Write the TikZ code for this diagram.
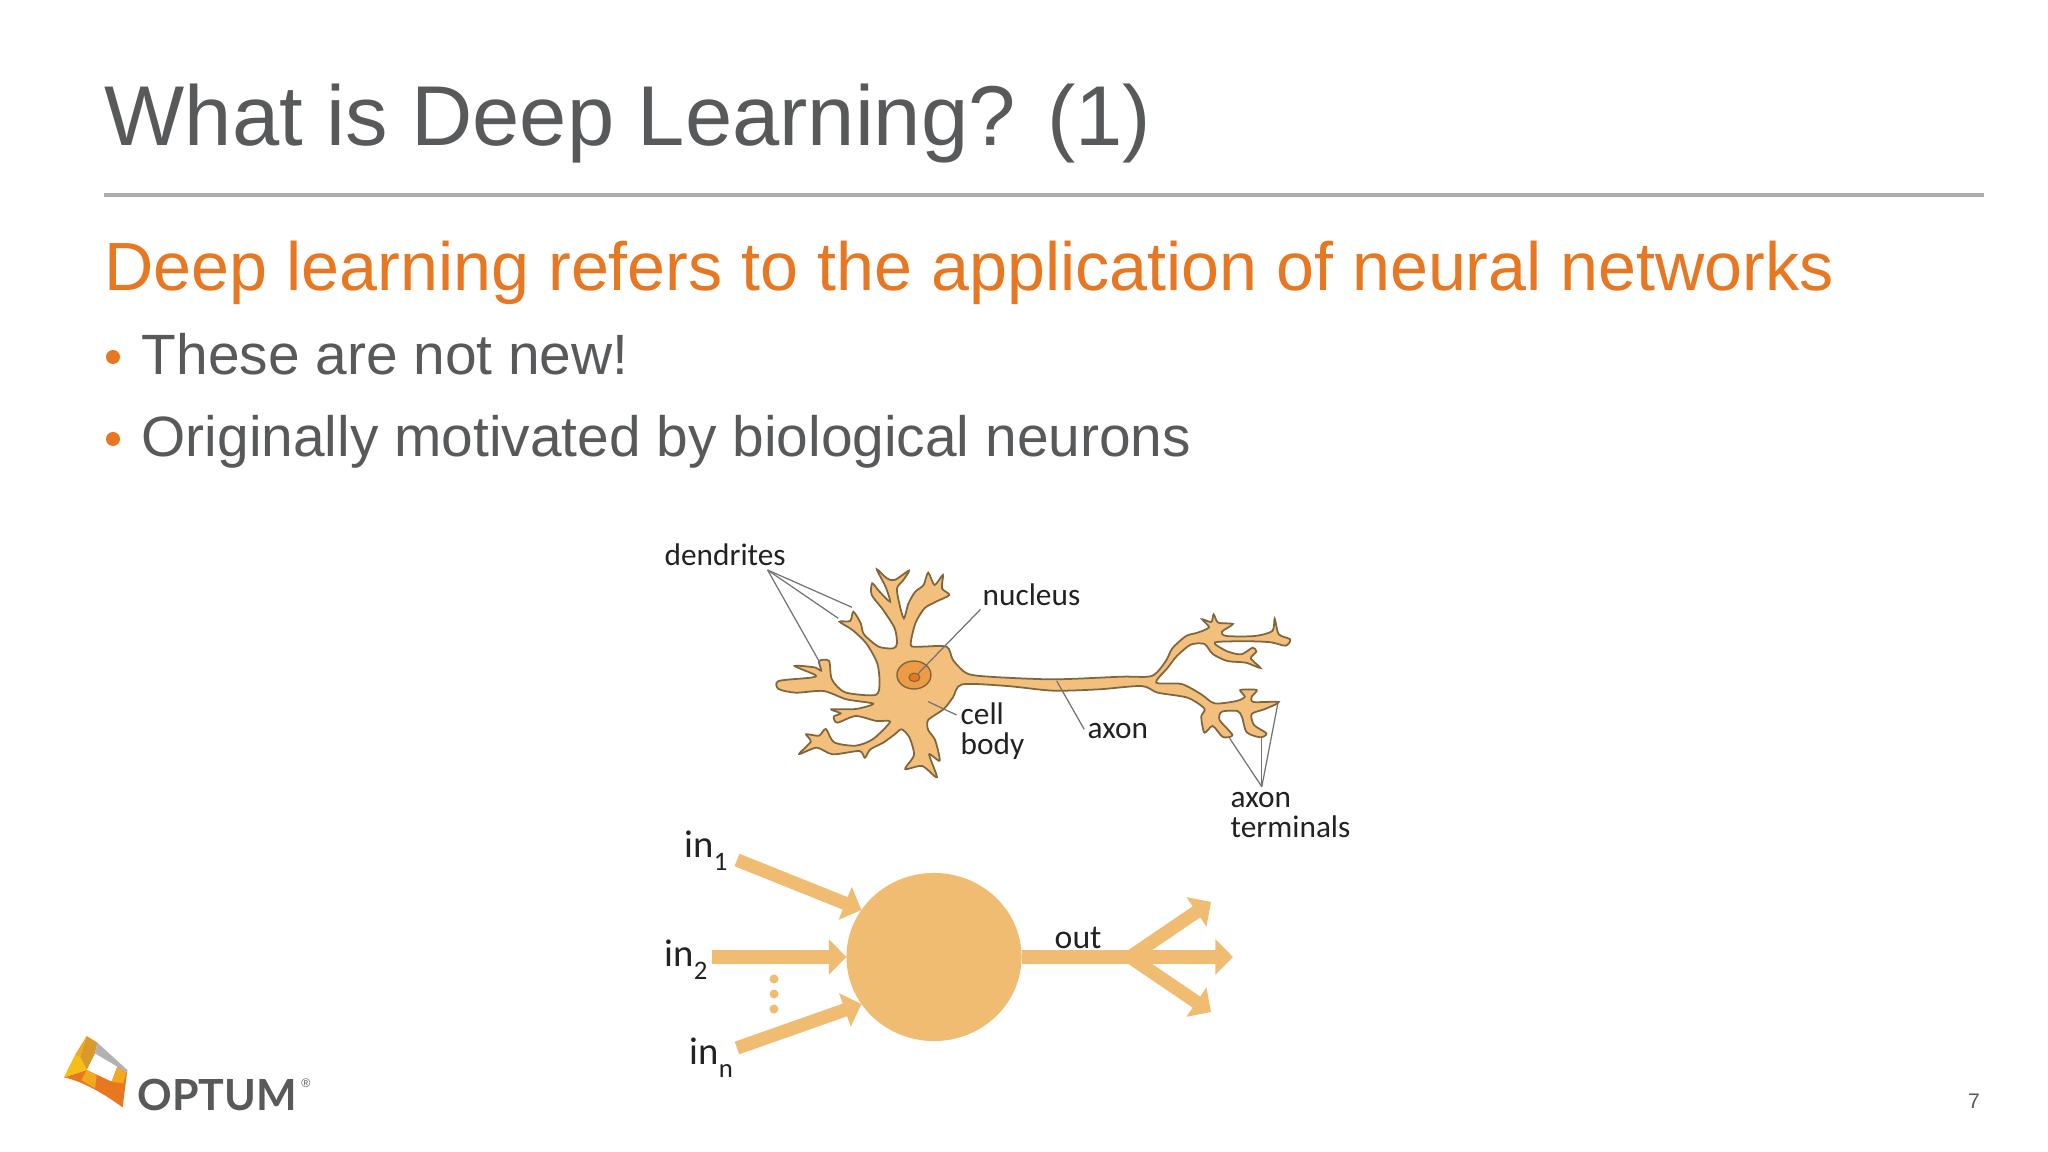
\documentclass[tikz,border=0pt]{standalone}
\usepackage{fontspec}
\usepackage{tikz}
\usetikzlibrary{arrows.meta, positioning, shapes.geometric}
\setmainfont{Liberation Sans}
\newfontfamily\labelfont{Carlito}
\newfontfamily\logofont{Lato}
\definecolor{slidegray}{HTML}{58595B}
\definecolor{slideorange}{HTML}{E87722}
\definecolor{neuronfill}{HTML}{F2C07C}
\definecolor{neuronedge}{HTML}{80663C}
\definecolor{nucleusfill}{HTML}{EE9B45}
\definecolor{flowfill}{HTML}{EFBC72}
\definecolor{labelink}{HTML}{222222}
\definecolor{logoamber}{HTML}{F2A91E}
\definecolor{logoyellow}{HTML}{F7BE16}
\definecolor{logobrown}{HTML}{D99A2B}
\newcommand{\insub}[1]{in\raisebox{-0.36em}{\fontsize{7.6pt}{8pt}\selectfont #1}}

\begin{document}
\begin{tikzpicture}[x=0.01cm, y=-0.01cm]
		\tikzstyle{Title} = [anchor=base west, inner sep=0, text=slidegray, font=\fontsize{24.15pt}{28pt}\selectfont]
		\tikzstyle{Lead} = [anchor=base west, inner sep=0, text=slideorange, font=\fontsize{19.4pt}{23pt}\selectfont]
		\tikzstyle{Item} = [anchor=base west, inner sep=0, text=slidegray, font=\fontsize{16.17pt}{20pt}\selectfont]
		\tikzstyle{Dot} = [circle, fill=slideorange, inner sep=0, minimum size=0.14cm]
		\tikzstyle{Tag} = [anchor=base west, inner sep=0, text=labelink, align=left, font=\labelfont\fontsize{8.9pt}{8.7pt}\selectfont]
		\tikzstyle{InTag} = [anchor=base west, inner sep=0, text=labelink, font=\labelfont\fontsize{11pt}{12pt}\selectfont]
		\tikzstyle{leader} = [draw=black!55, line width=0.35pt]
		\tikzstyle{flow} = [draw=flowfill, line width=3.8pt, -{Triangle[length=5pt, width=9.8pt]}]
		\tikzstyle{seed} = [circle, fill=flowfill, inner sep=0, minimum size=0.09cm]

		\useasboundingbox (0,0) rectangle (2048,1152);
		\fill [white] (0,0) rectangle (2048,1152);

		\node (title) [Title] at (104,146) {What is Deep Learning? (1)};
		\draw [draw=black!32, line width=0.9pt] (104,195) -- (1984,195);
		\node (lead) [Lead] at (104,291) {Deep learning refers to the application of neural networks};
		\node (dot1) [Dot] at (113,357) {};
		\node (item1) [Item] at (141,375) {These are not new!};
		\node (dot2) [Dot] at (113,439) {};
		\node (item2) [Item] at (141,457) {Originally motivated by biological neurons};
		\node (page) [anchor=base, inner sep=0, text=slidegray, font=\fontsize{6pt}{7pt}\selectfont] at (1974,1108) {7};

		\begin{scope}[shift={(640,520)}, x=0.01cm/2.178, y=-0.01cm/3]
			\draw [draw=neuronedge, line width=0.5pt, fill=neuronfill]
				plot [smooth cycle, tension=0.45] coordinates {(552,385) (560,370) (555,325) (530,270) (505,225) (506,190) (522,215) (545,245) (535,200) (516,148) (538,175) (555,180) (586,152) (574,180) (560,205) (565,250) (575,295) (585,250) (600,215) (618,195) (628,158) (642,195) (660,165) (658,205) (674,225) (645,245) (620,265) (600,310) (590,375) (610,380) (668,380) (682,420) (712,460) (760,470) (900,478) (1050,470) (1115,468) (1145,425) (1160,385) (1190,348) (1215,338) (1240,322) (1225,298) (1245,306) (1250,283) (1260,308) (1292,312) (1268,335) (1278,348) (1340,348) (1378,333) (1383,296) (1392,343) (1417,358) (1407,377) (1375,367) (1330,364) (1253,367) (1278,393) (1310,403) (1335,383) (1343,395) (1331,415) (1352,444) (1320,428) (1280,423) (1248,402) (1230,372) (1200,374) (1170,408) (1150,443) (1125,488) (1180,492) (1222,522) (1252,550) (1300,543) (1318,530) (1308,510) (1344,510) (1333,530) (1337,546) (1392,546) (1362,567) (1333,582) (1338,615) (1365,640) (1352,652) (1322,637) (1312,592) (1302,573) (1268,575) (1263,600) (1291,645) (1270,651) (1248,618) (1230,638) (1223,590) (1230,566) (1193,533) (1128,518) (1093,498) (1000,508) (900,512) (800,498) (702,493) (682,532) (662,567) (628,600) (628,630) (643,660) (653,722) (630,703) (647,772) (615,738) (578,747) (597,705) (587,652) (570,628) (555,643) (530,668) (502,688) (490,713) (478,693) (420,703) (385,683) (347,702) (372,665) (362,643) (390,647) (405,627) (423,667) (470,677) (508,657) (545,605) (515,603) (470,588) (430,608) (422,590) (437,580) (417,568) (470,567) (508,551) (450,538) (400,513) (340,518) (302,507) (302,483) (372,473) (382,465) (337,438) (380,442) (395,452) (390,423) (412,423) (418,478) (447,517) (513,525) (522,490) (517,430) (493,370) (463,330) (435,305) (458,303) (465,275) (481,310) (488,343) (520,380)};
			\node (nucleus) [ellipse, draw=neuronedge, line width=0.4pt, fill=nucleusfill, inner sep=0, minimum width=0.34cm, minimum height=0.28cm] at (597,465) {};
			\node (nucleolus) [ellipse, draw=neuronedge, line width=0.3pt, fill=slideorange, inner sep=0, minimum width=0.11cm, minimum height=0.085cm] at (598,472) {};

			\coordinate (dendfan) at (278,150);
			\coordinate (dend1) at (462,262);
			\coordinate (dend2) at (432,295);
			\coordinate (dend3) at (392,428);
			\coordinate (nucfrom) at (742,268);
			\coordinate (bodyfrom) at (690,585);
			\coordinate (bodyto) at (628,545);
			\coordinate (axonfrom) at (968,628);
			\coordinate (axonto) at (908,483);
			\coordinate (termfan) at (1355,800);
			\coordinate (term1) at (1285,655);
			\coordinate (term2) at (1355,650);
			\coordinate (term3) at (1390,550);
		\end{scope}

		\node (dendrites) [Tag] at (664,565) {dendrites};
		\node (nucleuslabel) [Tag] at (982,606) {nucleus};
		\node (cellbody) [Tag, anchor=west] at (960,731) {cell\\body};
		\node (axon) [Tag] at (1087,738) {axon};
		\node (terminals) [Tag, anchor=west] at (1230,815) {axon\\terminals};

		\draw [leader] (dendfan) -- (dend1);
		\draw [leader] (dendfan) -- (dend2);
		\draw [leader] (dendfan) -- (dend3);
		\draw [leader] (nucfrom) -- (nucleolus);
		\draw [leader] (bodyfrom) -- (bodyto);
		\draw [leader] (axonfrom) -- (axonto);
		\draw [leader] (termfan) -- (term1);
		\draw [leader] (termfan) -- (term2);
		\draw [leader] (termfan) -- (term3);

		\node (soma) [ellipse, fill=flowfill, inner sep=0, outer sep=0, minimum width=1.75cm, minimum height=1.68cm] at (934,957) {};
		\coordinate (start1) at (737,860);
		\coordinate (start2) at (712,957);
		\coordinate (startn) at (737,1048);
		\coordinate (branch) at (1130,957);
		\coordinate (tip1) at (1211,902);
		\coordinate (tip2) at (1233,957);
		\coordinate (tip3) at (1211,1012);
		\draw [flow] (start1) -- (soma.147);
		\draw [flow] (start2) -- (soma.west);
		\draw [flow] (startn) -- (soma.213);
		\draw [flow] (soma.east) -- (tip2);
		\draw [flow] (branch) -- (tip1);
		\draw [flow] (branch) -- (tip3);
		\node (seed1) [seed] at (774,979) {};
		\node (seed2) [seed] at (774,994) {};
		\node (seed3) [seed] at (774,1009) {};

		\node (in1) [InTag] at (684,857) {\insub{1}};
		\node (in2) [InTag] at (664,966) {\insub{2}};
		\node (inn) [InTag] at (689,1064) {\insub{n}};
		\node (out) [Tag, font=\labelfont\fontsize{9.6pt}{11pt}\selectfont] at (1054,948) {out};

		\begin{scope}[shift={(40,1020)}, x=0.01cm/3, y=-0.01cm/3]
			\fill [slideorange] (72,172) -- (140,150) -- (215,185) -- (232,140) -- (262,150) -- (248,262) .. controls (190,220) and (130,185) .. (72,172) -- cycle;
			\fill [logoamber] (140,150) -- (170,165) -- (165,205) -- (125,180) -- cycle;
			\fill [logobrown] (140,48) -- (172,68) -- (165,100) -- (140,150) -- (120,110) -- cycle;
			\fill [logoyellow] (72,172) -- (105,105) -- (120,110) -- (140,150) -- cycle;
			\fill [logoamber] (105,105) -- (140,48) -- (120,110) -- cycle;
			\fill [black!30] (172,68) -- (262,150) -- (258,160) -- (232,140) -- (165,100) -- cycle;
			\fill [logoamber] (215,185) -- (232,140) -- (258,160) -- (250,190) -- cycle;
			\node (optum) [anchor=base west, inner sep=0, text=slidegray, font=\logofont\bfseries\fontsize{12.2pt}{14pt}\selectfont] at (290,270) {OPTUM};
			\node (mark) [anchor=base west, inner sep=0, text=slidegray, font=\fontsize{3.5pt}{4pt}\selectfont] at (782,203) {\textregistered};
		\end{scope}
\end{tikzpicture}
\end{document}
